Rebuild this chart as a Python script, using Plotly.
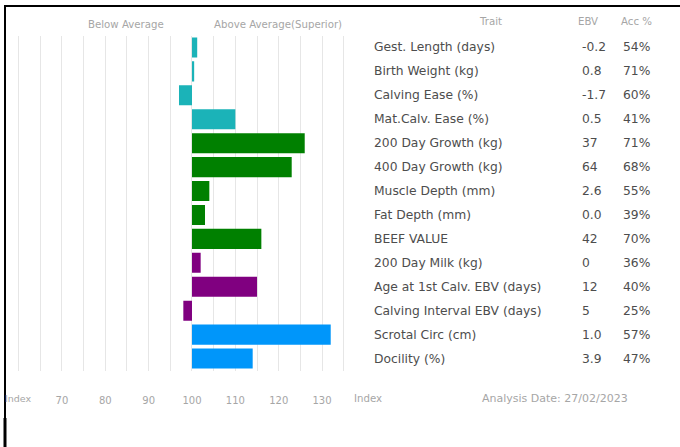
import plotly.graph_objects as go

traits = ["Gest. Length (days)", "Birth Weight (kg)", "Calving Ease (%)", "Mat.Calv. Ease (%)",
          "200 Day Growth (kg)", "400 Day Growth (kg)", "Muscle Depth (mm)", "Fat Depth (mm)",
          "BEEF VALUE", "200 Day Milk (kg)", "Age at 1st Calv. EBV (days)",
          "Calving Interval EBV (days)", "Scrotal Circ (cm)", "Docility (%)"]
ebv = ["-0.2", "0.8", "-1.7", "0.5", "37", "64", "2.6", "0.0", "42", "0", "12", "5", "1.0", "3.9"]
acc = ["54%", "71%", "60%", "41%", "71%", "68%", "55%", "39%", "70%", "36%", "40%", "25%", "57%", "47%"]
index_vals = [101.2, 100.5, 97, 110, 126, 123, 104, 103, 116, 102, 115, 98, 132, 114]
groups = ["calving", "calving", "calving", "calving", "growth", "growth", "carcase", "carcase",
          "value", "maternal", "maternal", "maternal", "other", "other"]
group_colors = {"calving": "#1bb3b8", "growth": "#008000", "carcase": "#008000",
                "value": "#008000", "maternal": "#800080", "other": "#0096fa"}

grid_vals = list(range(60, 140, 5))
tick_labels = {70: "70", 80: "80", 90: "90", 100: "100", 110: "110", 120: "120", 130: "130"}
base_index = 100

W, H = 680, 447
def px(x):
    return x / W

FONT = "DejaVu Sans"
grey = "#a6a6a6"
dark = "#4d4d4d"

fig = go.Figure()
fig.add_trace(go.Bar(
    y=list(range(len(traits))),
    x=[v - base_index for v in index_vals],
    base=base_index,
    orientation="h",
    marker=dict(color=[group_colors[g] for g in groups], line=dict(width=0)),
    hoverinfo="skip",
))

annotations = []
for i, (t, e, a) in enumerate(zip(traits, ebv, acc)):
    annotations.append(dict(x=px(372), y=i, xref="paper", yref="y", text=t, showarrow=False,
                            xanchor="left", font=dict(family=FONT, size=12.3, color=dark)))
    annotations.append(dict(x=px(580), y=i, xref="paper", yref="y", text=e, showarrow=False,
                            xanchor="left", font=dict(family=FONT, size=12.3, color=dark)))
    annotations.append(dict(x=px(621), y=i, xref="paper", yref="y", text=a, showarrow=False,
                            xanchor="left", font=dict(family=FONT, size=12.3, color=dark)))

def top_text(x, y, text, anchor="center", size=10.2):
    annotations.append(dict(x=px(x), y=1 - y / H, xref="paper", yref="paper", text=text,
                            showarrow=False, xanchor=anchor, yanchor="middle",
                            font=dict(family=FONT, size=size, color=grey)))

top_text(126, 24, "Below Average")
top_text(278, 24, "Above Average(Superior)")
top_text(490, 22, "Trait")
top_text(588, 22, "EBV")
top_text(636, 22, "Acc %")
top_text(18, 398, "Index", size=9.5)
top_text(368, 398, "Index")
top_text(555, 398, "Analysis Date: 27/02/2023", size=11)

x0, x1 = 57, 137
left_px = 192 + (x0 - 100) * 4.335
right_px = 192 + (x1 - 100) * 4.335

fig.update_layout(
    width=W, height=H,
    margin=dict(l=0, r=0, t=0, b=0),
    paper_bgcolor="white", plot_bgcolor="white",
    showlegend=False,
    bargap=0.16,
    xaxis=dict(domain=[px(left_px), px(right_px)], range=[x0, x1],
               tickvals=grid_vals, ticktext=[tick_labels.get(v, "") for v in grid_vals],
               showgrid=True, gridcolor="#e6e6e6", gridwidth=1,
               zeroline=False, showline=False,
               ticks="outside", ticklen=20, tickcolor="rgba(0,0,0,0)",
               tickfont=dict(family=FONT, size=10, color=grey)),
    yaxis=dict(domain=[1 - 370.5 / H, 1 - 35.5 / H], range=[len(traits) - 0.5, -0.5],
               showgrid=False, showticklabels=False, zeroline=False, showline=False),
    annotations=annotations,
    shapes=[
        dict(type="rect", xref="paper", yref="paper", layer="above", x0=px(4), x1=1,
             y0=1 - 7 / H, y1=1 - 5 / H, fillcolor="black", line=dict(width=0)),
        dict(type="rect", xref="paper", yref="paper", layer="above", x0=px(4), x1=px(6),
             y0=0, y1=1 - 5 / H, fillcolor="black", line=dict(width=0)),
        dict(type="rect", xref="paper", yref="paper", layer="above", x0=px(3.5), x1=px(6.5),
             y0=0, y1=1 - 418 / H, fillcolor="black", line=dict(width=0)),
    ],
)

fig.write_html("out.html", config={"displayModeBar": False, "staticPlot": True},
               post_script="document.body.style.margin='0';")
